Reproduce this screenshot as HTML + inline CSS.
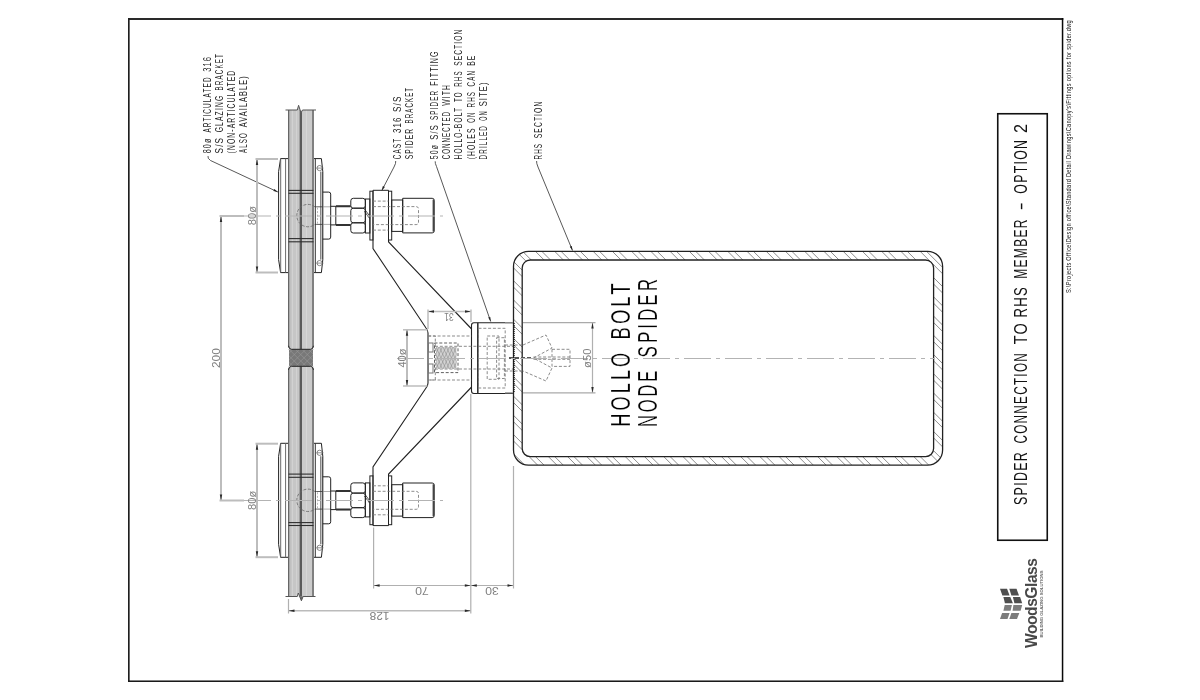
<!DOCTYPE html>
<html><head><meta charset="utf-8">
<style>
html,body{margin:0;padding:0;background:#fff;width:1200px;height:700px;overflow:hidden}
svg{display:block;will-change:transform}
text{font-family:"Liberation Sans",sans-serif}
.t{font-size:9.6px;fill:#222}
.d{font-size:9.6px;fill:#808080}
.k{fill:none;stroke:#222;stroke-width:1}
.g{fill:none;stroke:#888;stroke-width:1}
.h{fill:none;stroke:#777;stroke-width:0.85;stroke-dasharray:3 1.8}
.c{fill:none;stroke:#b3b3b3;stroke-width:1.2;stroke-dasharray:27 5 4 5}
</style></head><body>
<svg width="1200" height="700" viewBox="0 0 1200 700">
<rect x="0" y="0" width="1200" height="700" fill="#fff"/>
<!-- frame -->
<rect x="128" y="18" width="935.3" height="2" fill="#2a2a2a"/>
<rect x="128" y="18" width="1.65" height="664" fill="#1e1e1e"/>
<rect x="1061.8" y="18" width="1.5" height="664" fill="#080808"/>
<rect x="128" y="680.45" width="935.3" height="1.55" fill="#1a1a1a"/>
<!-- path text -->
<!-- title box -->
<rect x="997.75" y="113.75" width="49.5" height="426.5" fill="none" stroke="#111" stroke-width="1.6"/>

<!-- DRAWING_CONTENT -->
<rect x="288" y="110" width="26" height="486.5" fill="#c6c6c6"/>
<rect x="288" y="110" width="1.2" height="486.5" fill="#666"/>
<rect x="289.2" y="110" width="1" height="486.5" fill="#a8a8a8"/>
<rect x="292" y="110" width="1" height="486.5" fill="#d2d2d2"/>
<rect x="296" y="110" width="1" height="486.5" fill="#d2d2d2"/>
<rect x="299" y="110" width="1" height="486.5" fill="#a0a0a0"/>
<rect x="300" y="110" width="2" height="486.5" fill="#5a5a5a"/>
<rect x="302" y="110" width="10" height="486.5" fill="#cbcbcb"/>
<rect x="306" y="110" width="1" height="486.5" fill="#d6d6d6"/>
<rect x="312" y="110" width="2" height="486.5" fill="#808080"/>
<rect x="287.5" y="349.3" width="27" height="17" fill="#fff"/>
<rect x="289" y="349.3" width="24" height="17" fill="#787878"/>
<clipPath id="jnt"><rect x="289" y="349.3" width="24" height="17"/></clipPath>
<path d="M250.0,349.3 L267.0,366.3 M267.0,349.3 L250.0,366.3 M256.5,349.3 L273.5,366.3 M273.5,349.3 L256.5,366.3 M263.0,349.3 L280.0,366.3 M280.0,349.3 L263.0,366.3 M269.5,349.3 L286.5,366.3 M286.5,349.3 L269.5,366.3 M276.0,349.3 L293.0,366.3 M293.0,349.3 L276.0,366.3 M282.5,349.3 L299.5,366.3 M299.5,349.3 L282.5,366.3 M289.0,349.3 L306.0,366.3 M306.0,349.3 L289.0,366.3 M295.5,349.3 L312.5,366.3 M312.5,349.3 L295.5,366.3 M302.0,349.3 L319.0,366.3 M319.0,349.3 L302.0,366.3 M308.5,349.3 L325.5,366.3 M325.5,349.3 L308.5,366.3 M315.0,349.3 L332.0,366.3 M332.0,349.3 L315.0,366.3 M321.5,349.3 L338.5,366.3 M338.5,349.3 L321.5,366.3 M328.0,349.3 L345.0,366.3 M345.0,349.3 L328.0,366.3 M334.5,349.3 L351.5,366.3 M351.5,349.3 L334.5,366.3 M341.0,349.3 L358.0,366.3 M358.0,349.3 L341.0,366.3 M347.5,349.3 L364.5,366.3 M364.5,349.3 L347.5,366.3" stroke="#9a9a9a" stroke-width="0.6" fill="none" clip-path="url(#jnt)"/>
<path d="M287.5,349.3 L287.5,345.8 L288,345.8 Q288.6,349.3 291.5,349.3 Z" fill="#fff"/>
<path d="M314.5,349.3 L314.5,345.8 L314,345.8 Q313.4,349.3 310.5,349.3 Z" fill="#fff"/>
<path d="M288.5,345.8 Q288.9,349.3 291.5,349.3 H310.5 Q313.1,349.3 313.5,345.8" fill="none" stroke="#222" stroke-width="1"/>
<path d="M287.5,366.3 L287.5,369.8 L288,369.8 Q288.6,366.3 291.5,366.3 Z" fill="#fff"/>
<path d="M314.5,366.3 L314.5,369.8 L314,369.8 Q313.4,366.3 310.5,366.3 Z" fill="#fff"/>
<path d="M288.5,369.8 Q288.9,366.3 291.5,366.3 H310.5 Q313.1,366.3 313.5,369.8" fill="none" stroke="#222" stroke-width="1"/>
<path d="M297.3,110 L298.6,105.3 L300.1,110 Z" fill="#c2c2c2"/>
<path d="M300.1,110 L301,112.8 L302.5,110 Z" fill="#fff"/>
<path class="k" style="stroke:#555" d="M285.5,110 H297.3 L298.6,105.3 L301,112.8 L302.5,110 H316"/>
<path d="M297.3,596.5 L298.3,593 L299.7,596.5 Z" fill="#fff"/>
<path d="M299.7,596.5 L301.4,600.8 L303.1,596.5 Z" fill="#666"/>
<path class="k" style="stroke:#555" d="M285.5,596.5 H297.3 L298.3,593 L301.4,600.8 L303.1,596.5 H315.5"/>
<path class="k" d="M278.6,171.6 L280.6,158.6 L288,158.6 M278.6,171.6 L278.6,259.6 L280.6,272.6 L288,272.6"/>
<path class="k" style="stroke:#6a6a6a" d="M280.7,158.6 V272.6 M285.6,158.6 V272.6"/>
<rect x="320.5" y="171.6" width="2.6" height="88" fill="#c4c4c4"/>
<path class="k" d="M314,158.6 L321.4,158.6 L322.8,171.6 L322.8,259.6 L321.4,272.6 L314,272.6"/>
<path class="k" style="stroke:#333" d="M315.3,158.6 V272.6"/>
<path class="k" style="stroke:#888" d="M320.5,171.6 V259.6"/>
<circle cx="319.6" cy="168.1" r="2.6" fill="#fff" stroke="#555" stroke-width="0.7"/>
<path d="M316.5,168.1 H323.5" stroke="#666" stroke-width="0.7"/>
<circle cx="319.6" cy="263.1" r="2.6" fill="#fff" stroke="#555" stroke-width="0.7"/>
<path d="M316.5,263.1 H323.5" stroke="#666" stroke-width="0.7"/>
<rect x="288.5" y="189.85" width="25" height="1.1" fill="#2e2e2e"/>
<rect x="288.5" y="192.74999999999997" width="25" height="1.1" fill="#2e2e2e"/>
<rect x="288.5" y="238.04999999999998" width="25" height="1.1" fill="#2e2e2e"/>
<rect x="288.5" y="241.24999999999997" width="25" height="1.1" fill="#2e2e2e"/>
<path class="h" d="M314.9,206.79999999999998 A11.2,11.2 0 1 0 314.9,224.4" style="stroke:#666;stroke-width:0.8;stroke-dasharray:3 1.5"/>
<path d="M314.9,206.79999999999998 Q316,206.79999999999998 318,206.79999999999998 H322.5 M314.9,224.4 Q316,224.4 318,224.4 H322.5" stroke="#333" stroke-width="0.8" fill="none"/>
<path d="M323,206.79999999999998 H330.7 M323,224.4 H330.7" stroke="#888" stroke-width="0.7" fill="none"/>
<path class="h" d="M317.5,207.6 V223.6" style="stroke:#aaa;stroke-dasharray:2 1.5"/>
<path class="k" d="M322.8,192.1 L328.7,192.1 Q330.7,192.1 330.7,194.1 L330.7,237.1 Q330.7,239.1 328.7,239.1 L322.8,239.1"/>
<path class="k" d="M330.7,206.29999999999998 H350.6 M330.7,224.9 H350.6 M335.8,206.29999999999998 V224.9"/>
<path d="M336,206.29999999999998 H350.6 M336,224.9 H350.6" stroke="#333" stroke-width="2" fill="none"/>
<rect x="350.8" y="198.29999999999998" width="14.5" height="9.900000000000006" rx="2.5" class="k"/>
<rect x="350.8" y="208.2" width="14.5" height="14.599999999999994" rx="2.5" class="k"/>
<rect x="350.8" y="222.79999999999998" width="14.5" height="10.200000000000017" rx="2.5" class="k"/>
<path class="k" style="stroke-width:0.8" d="M364.4,211.29999999999998 L369.6,218.4 M365.2,210.0 L369.8,216.2"/>
<rect x="365.4" y="199.0" width="4.5" height="34" class="k"/>
<rect x="369.9" y="191.2" width="3.1" height="48.8" class="k"/>
<rect x="388.5" y="191.2" width="3.2" height="48.8" class="k"/>
<path class="k" d="M373,190.29999999999998 V240.0 M388.5,190.29999999999998 V240.0 M373,190.29999999999998 H388.5"/>
<rect x="391.7" y="200.0" width="11" height="31.4" class="k"/>
<path class="k" d="M402.7,198.29999999999998 H432.2 Q434.2,198.29999999999998 434.2,200.29999999999998 V230.9 Q434.2,232.9 432.2,232.9 H402.7 Z"/>
<path d="M433.4,199.6 V231.6" stroke="#444" stroke-width="1.6"/>
<path class="h" d="M373,201.1 H388.5 M373,230.1 H388.5"/>
<path class="h" d="M373,206.6 H416 Q418.5,206.6 418.5,209.1 V222.1 Q418.5,224.6 416,224.6 H373"/>
<path class="k" d="M278.6,544.3 L280.6,557.3 L288,557.3 M278.6,544.3 L278.6,456.3 L280.6,443.3 L288,443.3"/>
<path class="k" style="stroke:#6a6a6a" d="M280.7,557.3 V443.3 M285.6,557.3 V443.3"/>
<rect x="320.5" y="456.3" width="2.6" height="88" fill="#c4c4c4"/>
<path class="k" d="M314,557.3 L321.4,557.3 L322.8,544.3 L322.8,456.3 L321.4,443.3 L314,443.3"/>
<path class="k" style="stroke:#333" d="M315.3,557.3 V443.3"/>
<path class="k" style="stroke:#888" d="M320.5,544.3 V456.3"/>
<circle cx="319.6" cy="547.8" r="2.6" fill="#fff" stroke="#555" stroke-width="0.7"/>
<path d="M316.5,547.8 H323.5" stroke="#666" stroke-width="0.7"/>
<circle cx="319.6" cy="452.8" r="2.6" fill="#fff" stroke="#555" stroke-width="0.7"/>
<path d="M316.5,452.8 H323.5" stroke="#666" stroke-width="0.7"/>
<rect x="288.5" y="524.95" width="25" height="1.1" fill="#2e2e2e"/>
<rect x="288.5" y="522.0500000000001" width="25" height="1.1" fill="#2e2e2e"/>
<rect x="288.5" y="476.75" width="25" height="1.1" fill="#2e2e2e"/>
<rect x="288.5" y="473.55" width="25" height="1.1" fill="#2e2e2e"/>
<path class="h" d="M314.9,491.5 A11.2,11.2 0 1 0 314.9,509.1" style="stroke:#666;stroke-width:0.8;stroke-dasharray:3 1.5"/>
<path d="M314.9,491.5 Q316,491.5 318,491.5 H322.5 M314.9,509.1 Q316,509.1 318,509.1 H322.5" stroke="#333" stroke-width="0.8" fill="none"/>
<path d="M323,491.5 H330.7 M323,509.1 H330.7" stroke="#888" stroke-width="0.7" fill="none"/>
<path class="h" d="M317.5,492.3 V508.3" style="stroke:#aaa;stroke-dasharray:2 1.5"/>
<path class="k" d="M322.8,523.8 L328.7,523.8 Q330.7,523.8 330.7,521.8 L330.7,478.8 Q330.7,476.8 328.7,476.8 L322.8,476.8"/>
<path class="k" d="M330.7,509.6 H350.6 M330.7,491.0 H350.6 M335.8,509.6 V491.0"/>
<path d="M336,509.6 H350.6 M336,491.0 H350.6" stroke="#333" stroke-width="2" fill="none"/>
<rect x="350.8" y="507.7" width="14.5" height="9.900000000000034" rx="2.5" class="k"/>
<rect x="350.8" y="493.1" width="14.5" height="14.599999999999966" rx="2.5" class="k"/>
<rect x="350.8" y="482.90000000000003" width="14.5" height="10.199999999999989" rx="2.5" class="k"/>
<path class="k" style="stroke-width:0.8" d="M364.4,496.0 L369.6,503.1 M365.2,494.7 L369.8,500.90000000000003"/>
<rect x="365.4" y="482.90000000000003" width="4.5" height="34" class="k"/>
<rect x="369.9" y="475.90000000000003" width="3.1" height="48.8" class="k"/>
<rect x="388.5" y="475.90000000000003" width="3.2" height="48.8" class="k"/>
<path class="k" d="M373,525.6 V475.90000000000003 M388.5,525.6 V475.90000000000003 M373,525.6 H388.5"/>
<rect x="391.7" y="484.7" width="11" height="31.4" class="k"/>
<path class="k" d="M402.7,483.0 H432.2 Q434.2,483.0 434.2,485.0 V515.6 Q434.2,517.6 432.2,517.6 H402.7 Z"/>
<path d="M433.4,484.3 V516.3" stroke="#444" stroke-width="1.6"/>
<path class="h" d="M373,485.8 H388.5 M373,514.8 H388.5"/>
<path class="h" d="M373,491.3 H416 Q418.5,491.3 418.5,493.8 V506.8 Q418.5,509.3 416,509.3 H373"/>
<path class="k" style="stroke-width:1.1" d="M373,240 V248.5 L426,328 Q428,330.5 428,333 V383 Q428,385.5 426,388 L373,467 V476"/>
<path class="k" style="stroke-width:1.1" d="M388.5,240 L388.6,242 L471.6,329 M388.5,476 L388.6,474 L471.6,387"/>
<path class="k" style="stroke-width:1.1" d="M513.4,322.8 H474 Q471.5,322.8 471.5,325.3 V391 Q471.5,393.5 474,393.5 H513.4"/>
<path d="M477.8,322.8 V393.5" stroke="#333" stroke-width="1.6"/>
<rect x="478.5" y="328.3" width="26.7" height="59.7" class="h"/>
<rect x="487.2" y="336" width="11.8" height="43.3" class="h"/>
<rect x="496.6" y="337.7" width="7.8" height="40.8" class="h"/>
<path class="h" d="M428,336 H471.5 M428,380 H471.5 M435,346.3 H513 M435,369 H513"/>
<path class="h" d="M428.3,336 H435.3 V380 H428.3"/>
<rect x="436" y="347" width="20.5" height="22" fill="#d2d2d2"/>
<path d="M415.0,347 L424.9,369 M424.9,347 L415.0,369 M418.5,347 L428.4,369 M428.4,347 L418.5,369 M422.0,347 L431.9,369 M431.9,347 L422.0,369 M425.5,347 L435.4,369 M435.4,347 L425.5,369 M429.0,347 L438.9,369 M438.9,347 L429.0,369 M432.5,347 L442.4,369 M442.4,347 L432.5,369 M436.0,347 L445.9,369 M445.9,347 L436.0,369 M439.5,347 L449.4,369 M449.4,347 L439.5,369 M443.0,347 L452.9,369 M452.9,347 L443.0,369 M446.5,347 L456.4,369 M456.4,347 L446.5,369 M450.0,347 L459.9,369 M459.9,347 L450.0,369 M453.5,347 L463.4,369 M463.4,347 L453.5,369 M457.0,347 L466.9,369 M466.9,347 L457.0,369 M460.5,347 L470.4,369 M470.4,347 L460.5,369 M464.0,347 L473.9,369 M473.9,347 L464.0,369 M467.5,347 L477.4,369 M477.4,347 L467.5,369 M471.0,347 L480.9,369 M480.9,347 L471.0,369 M474.5,347 L484.4,369 M484.4,347 L474.5,369" stroke="#8a8a8a" stroke-width="0.55" fill="none" clip-path="url(#thr)"/>
<clipPath id="thr"><rect x="436" y="347" width="20.5" height="22"/></clipPath>
<rect x="434.5" y="343" width="23.5" height="29.6" class="h" style="stroke:#444"/>
<rect x="428.5" y="343" width="4.5" height="9" class="k" style="stroke:#777"/>
<rect x="428.5" y="364" width="4.5" height="9" class="k" style="stroke:#777"/>
<clipPath id="wall"><path d="M528.5,251.4 H927.6 A15,15 0 0 1 942.6,266.4 V450.1 A15,15 0 0 1 927.6,465.1 H528.5 A15,15 0 0 1 513.5,450.1 V266.4 A15,15 0 0 1 528.5,251.4 Z M530.2,260 H925.6 A8,8 0 0 1 933.6,268 V448.6 A8,8 0 0 1 925.6,456.6 H530.2 A8,8 0 0 1 522.2,448.6 V268 A8,8 0 0 1 530.2,260 Z" clip-rule="evenodd"/></clipPath>
<path d="M-533.90,-48.599999999999994 L66.10,551.4 M-527.50,-48.599999999999994 L72.50,551.4 M-514.66,-48.599999999999994 L85.34,551.4 M-508.26,-48.599999999999994 L91.74,551.4 M-495.43,-48.599999999999994 L104.57,551.4 M-489.03,-48.599999999999994 L110.97,551.4 M-476.19,-48.599999999999994 L123.81,551.4 M-469.79,-48.599999999999994 L130.21,551.4 M-456.96,-48.599999999999994 L143.04,551.4 M-450.56,-48.599999999999994 L149.44,551.4 M-437.73,-48.599999999999994 L162.27,551.4 M-431.33,-48.599999999999994 L168.67,551.4 M-418.49,-48.599999999999994 L181.51,551.4 M-412.09,-48.599999999999994 L187.91,551.4 M-399.25,-48.599999999999994 L200.75,551.4 M-392.86,-48.599999999999994 L207.15,551.4 M-380.02,-48.599999999999994 L219.98,551.4 M-373.62,-48.599999999999994 L226.38,551.4 M-360.78,-48.599999999999994 L239.22,551.4 M-354.38,-48.599999999999994 L245.62,551.4 M-341.55,-48.599999999999994 L258.45,551.4 M-335.15,-48.599999999999994 L264.85,551.4 M-322.31,-48.599999999999994 L277.69,551.4 M-315.91,-48.599999999999994 L284.09,551.4 M-303.08,-48.599999999999994 L296.92,551.4 M-296.68,-48.599999999999994 L303.32,551.4 M-283.85,-48.599999999999994 L316.15,551.4 M-277.45,-48.599999999999994 L322.55,551.4 M-264.61,-48.599999999999994 L335.39,551.4 M-258.21,-48.599999999999994 L341.79,551.4 M-245.38,-48.599999999999994 L354.62,551.4 M-238.97,-48.599999999999994 L361.02,551.4 M-226.14,-48.599999999999994 L373.86,551.4 M-219.74,-48.599999999999994 L380.26,551.4 M-206.90,-48.599999999999994 L393.10,551.4 M-200.50,-48.599999999999994 L399.50,551.4 M-187.67,-48.599999999999994 L412.33,551.4 M-181.27,-48.599999999999994 L418.73,551.4 M-168.44,-48.599999999999994 L431.56,551.4 M-162.03,-48.599999999999994 L437.97,551.4 M-149.20,-48.599999999999994 L450.80,551.4 M-142.80,-48.599999999999994 L457.20,551.4 M-129.96,-48.599999999999994 L470.04,551.4 M-123.56,-48.599999999999994 L476.44,551.4 M-110.73,-48.599999999999994 L489.27,551.4 M-104.33,-48.599999999999994 L495.67,551.4 M-91.50,-48.599999999999994 L508.50,551.4 M-85.09,-48.599999999999994 L514.90,551.4 M-72.26,-48.599999999999994 L527.74,551.4 M-65.86,-48.599999999999994 L534.14,551.4 M-53.02,-48.599999999999994 L546.98,551.4 M-46.62,-48.599999999999994 L553.38,551.4 M-33.79,-48.599999999999994 L566.21,551.4 M-27.39,-48.599999999999994 L572.61,551.4 M-14.56,-48.599999999999994 L585.44,551.4 M-8.16,-48.599999999999994 L591.85,551.4 M4.68,-48.599999999999994 L604.68,551.4 M11.08,-48.599999999999994 L611.08,551.4 M23.92,-48.599999999999994 L623.91,551.4 M30.31,-48.599999999999994 L630.32,551.4 M43.15,-48.599999999999994 L643.15,551.4 M49.55,-48.599999999999994 L649.55,551.4 M62.38,-48.599999999999994 L662.38,551.4 M68.78,-48.599999999999994 L668.78,551.4 M81.62,-48.599999999999994 L681.62,551.4 M88.02,-48.599999999999994 L688.02,551.4 M100.86,-48.599999999999994 L700.86,551.4 M107.25,-48.599999999999994 L707.25,551.4 M120.09,-48.599999999999994 L720.09,551.4 M126.49,-48.599999999999994 L726.49,551.4 M139.32,-48.599999999999994 L739.33,551.4 M145.72,-48.599999999999994 L745.72,551.4 M158.56,-48.599999999999994 L758.56,551.4 M164.96,-48.599999999999994 L764.96,551.4 M177.80,-48.599999999999994 L777.80,551.4 M184.19,-48.599999999999994 L784.19,551.4 M197.03,-48.599999999999994 L797.03,551.4 M203.43,-48.599999999999994 L803.43,551.4 M216.26,-48.599999999999994 L816.26,551.4 M222.66,-48.599999999999994 L822.66,551.4 M235.50,-48.599999999999994 L835.50,551.4 M241.90,-48.599999999999994 L841.90,551.4 M254.74,-48.599999999999994 L854.74,551.4 M261.13,-48.599999999999994 L861.13,551.4 M273.97,-48.599999999999994 L873.97,551.4 M280.37,-48.599999999999994 L880.37,551.4 M293.21,-48.599999999999994 L893.21,551.4 M299.61,-48.599999999999994 L899.61,551.4 M312.44,-48.599999999999994 L912.44,551.4 M318.84,-48.599999999999994 L918.84,551.4 M331.67,-48.599999999999994 L931.67,551.4 M338.07,-48.599999999999994 L938.07,551.4 M350.91,-48.599999999999994 L950.91,551.4 M357.31,-48.599999999999994 L957.31,551.4 M370.14,-48.599999999999994 L970.14,551.4 M376.54,-48.599999999999994 L976.54,551.4 M389.38,-48.599999999999994 L989.38,551.4 M395.78,-48.599999999999994 L995.78,551.4 M408.62,-48.599999999999994 L1008.62,551.4 M415.01,-48.599999999999994 L1015.01,551.4 M427.85,-48.599999999999994 L1027.85,551.4 M434.25,-48.599999999999994 L1034.25,551.4 M447.09,-48.599999999999994 L1047.09,551.4 M453.49,-48.599999999999994 L1053.49,551.4 M466.32,-48.599999999999994 L1066.32,551.4 M472.72,-48.599999999999994 L1072.72,551.4 M485.56,-48.599999999999994 L1085.56,551.4 M491.96,-48.599999999999994 L1091.95,551.4 M504.79,-48.599999999999994 L1104.79,551.4 M511.19,-48.599999999999994 L1111.19,551.4 M524.02,-48.599999999999994 L1124.03,551.4 M530.42,-48.599999999999994 L1130.42,551.4 M543.26,-48.599999999999994 L1143.26,551.4 M549.66,-48.599999999999994 L1149.66,551.4 M562.50,-48.599999999999994 L1162.49,551.4 M568.89,-48.599999999999994 L1168.89,551.4 M581.73,-48.599999999999994 L1181.73,551.4 M588.13,-48.599999999999994 L1188.13,551.4 M600.96,-48.599999999999994 L1200.96,551.4 M607.36,-48.599999999999994 L1207.36,551.4 M620.20,-48.599999999999994 L1220.20,551.4 M626.60,-48.599999999999994 L1226.60,551.4 M639.43,-48.599999999999994 L1239.43,551.4 M645.83,-48.599999999999994 L1245.84,551.4 M658.67,-48.599999999999994 L1258.67,551.4 M665.07,-48.599999999999994 L1265.07,551.4 M677.90,-48.599999999999994 L1277.90,551.4 M684.30,-48.599999999999994 L1284.30,551.4 M697.14,-48.599999999999994 L1297.14,551.4 M703.54,-48.599999999999994 L1303.54,551.4 M716.38,-48.599999999999994 L1316.38,551.4 M722.77,-48.599999999999994 L1322.78,551.4 M735.61,-48.599999999999994 L1335.61,551.4 M742.01,-48.599999999999994 L1342.01,551.4 M754.85,-48.599999999999994 L1354.85,551.4 M761.25,-48.599999999999994 L1361.25,551.4 M774.08,-48.599999999999994 L1374.08,551.4 M780.48,-48.599999999999994 L1380.48,551.4 M793.32,-48.599999999999994 L1393.32,551.4 M799.72,-48.599999999999994 L1399.72,551.4 M812.55,-48.599999999999994 L1412.55,551.4 M818.95,-48.599999999999994 L1418.95,551.4 M831.78,-48.599999999999994 L1431.78,551.4 M838.18,-48.599999999999994 L1438.18,551.4 M851.02,-48.599999999999994 L1451.02,551.4 M857.42,-48.599999999999994 L1457.42,551.4 M870.26,-48.599999999999994 L1470.26,551.4 M876.66,-48.599999999999994 L1476.66,551.4 M889.49,-48.599999999999994 L1489.49,551.4 M895.89,-48.599999999999994 L1495.89,551.4 M908.72,-48.599999999999994 L1508.72,551.4 M915.12,-48.599999999999994 L1515.12,551.4 M927.96,-48.599999999999994 L1527.96,551.4 M934.36,-48.599999999999994 L1534.36,551.4 M947.19,-48.599999999999994 L1547.19,551.4 M953.60,-48.599999999999994 L1553.60,551.4 M966.43,-48.599999999999994 L1566.43,551.4 M972.83,-48.599999999999994 L1572.83,551.4 M985.66,-48.599999999999994 L1585.66,551.4 M992.07,-48.599999999999994 L1592.07,551.4 M1004.90,-48.599999999999994 L1604.90,551.4 M1011.30,-48.599999999999994 L1611.30,551.4 M1024.13,-48.599999999999994 L1624.13,551.4 M1030.54,-48.599999999999994 L1630.54,551.4 M1043.37,-48.599999999999994 L1643.37,551.4 M1049.77,-48.599999999999994 L1649.77,551.4 M1062.61,-48.599999999999994 L1662.61,551.4 M1069.01,-48.599999999999994 L1669.01,551.4 M1081.84,-48.599999999999994 L1681.84,551.4 M1088.24,-48.599999999999994 L1688.24,551.4 M1101.07,-48.599999999999994 L1701.07,551.4 M1107.47,-48.599999999999994 L1707.47,551.4 M1120.31,-48.599999999999994 L1720.31,551.4 M1126.71,-48.599999999999994 L1726.71,551.4 M1139.55,-48.599999999999994 L1739.55,551.4 M1145.95,-48.599999999999994 L1745.95,551.4 M1158.78,-48.599999999999994 L1758.78,551.4 M1165.18,-48.599999999999994 L1765.18,551.4 M1178.01,-48.599999999999994 L1778.01,551.4 M1184.41,-48.599999999999994 L1784.41,551.4 M1197.25,-48.599999999999994 L1797.25,551.4 M1203.65,-48.599999999999994 L1803.65,551.4 M1216.49,-48.599999999999994 L1816.49,551.4 M1222.89,-48.599999999999994 L1822.89,551.4 M1235.72,-48.599999999999994 L1835.72,551.4 M1242.12,-48.599999999999994 L1842.12,551.4 M1254.95,-48.599999999999994 L1854.95,551.4 M1261.36,-48.599999999999994 L1861.36,551.4 M1274.19,-48.599999999999994 L1874.19,551.4 M1280.59,-48.599999999999994 L1880.59,551.4 M1293.42,-48.599999999999994 L1893.42,551.4 M1299.83,-48.599999999999994 L1899.83,551.4 M1312.66,-48.599999999999994 L1912.66,551.4 M1319.06,-48.599999999999994 L1919.06,551.4 M1331.89,-48.599999999999994 L1931.89,551.4 M1338.30,-48.599999999999994 L1938.30,551.4 M1351.13,-48.599999999999994 L1951.13,551.4 M1357.53,-48.599999999999994 L1957.53,551.4 M1370.37,-48.599999999999994 L1970.37,551.4 M1376.77,-48.599999999999994 L1976.77,551.4" stroke="#707070" stroke-width="0.8" fill="none" clip-path="url(#wall)"/>
<path d="M528.5,251.4 H927.6 A15,15 0 0 1 942.6,266.4 V450.1 A15,15 0 0 1 927.6,465.1 H528.5 A15,15 0 0 1 513.5,450.1 V266.4 A15,15 0 0 1 528.5,251.4 Z" class="k" style="stroke-width:1.3"/>
<path d="M530.2,260 H925.6 A8,8 0 0 1 933.6,268 V448.6 A8,8 0 0 1 925.6,456.6 H530.2 A8,8 0 0 1 522.2,448.6 V268 A8,8 0 0 1 530.2,260 Z" class="k" style="stroke-width:1.3"/>
<path class="h" d="M523,345 L546,335 L552,348 L533.5,358 L552,368 L546,381 L523,371"/>
<rect x="552" y="349.3" width="18" height="17.1" class="h"/>
<path class="h" d="M533.5,357 H570 M533.5,359.3 H570"/>
<path class="h" d="M505,345 H523 M505,371 H523"/>
<path d="M509,358 H532" stroke="#555" stroke-width="2" stroke-dasharray="4 2"/>
<path d="M514,323 V393" stroke="#111" stroke-width="1.3" stroke-dasharray="1 1"/>
<path class="c" d="M244,216 H443"/>
<path class="c" d="M244,500.5 H443"/>
<path class="c" d="M395,358.5 H935" style="stroke-dashoffset:-2"/>
<!-- /DRAWING_CONTENT -->

<!-- TEXT_CONTENT -->
<text transform="translate(210.6,153.29) rotate(-90) scale(0.7263,1)" style="font-size:10px;fill:#1e1e1e;" textLength="20.26" lengthAdjust="spacing">80ø</text>
<text transform="translate(210.6,132.62) rotate(-90) scale(0.6453,1)" style="font-size:10px;fill:#1e1e1e;" textLength="85.58" lengthAdjust="spacing">ARTICULATED</text>
<text transform="translate(210.6,71.79) rotate(-90) scale(0.7585,1)" style="font-size:10px;fill:#1e1e1e;" textLength="19.58" lengthAdjust="spacing">316</text>
<text transform="translate(222.8,153.41) rotate(-90) scale(0.8250,1)" style="font-size:10px;fill:#1e1e1e;" textLength="18.79" lengthAdjust="spacing">S/S</text>
<text transform="translate(222.8,132.33) rotate(-90) scale(0.6824,1)" style="font-size:10px;fill:#1e1e1e;" textLength="53.57" lengthAdjust="spacing">GLAZING</text>
<text transform="translate(222.8,90.47) rotate(-90) scale(0.6292,1)" style="font-size:10px;fill:#1e1e1e;" textLength="57.72" lengthAdjust="spacing">BRACKET</text>
<text transform="translate(235.0,153.41) rotate(-90) scale(0.6795,1)" style="font-size:10px;fill:#1e1e1e;" textLength="121.69" lengthAdjust="spacing">(NON-ARTICULATED</text>
<text transform="translate(247.4,153.00) rotate(-90) scale(0.6198,1)" style="font-size:10px;fill:#1e1e1e;" textLength="32.00" lengthAdjust="spacing">ALSO</text>
<text transform="translate(247.4,127.20) rotate(-90) scale(0.7368,1)" style="font-size:10px;fill:#1e1e1e;" textLength="69.20" lengthAdjust="spacing">AVAILABLE)</text>
<text transform="translate(400.6,159.22) rotate(-90) scale(0.6385,1)" style="font-size:10px;fill:#1e1e1e;" textLength="31.84" lengthAdjust="spacing">CAST</text>
<text transform="translate(400.6,132.97) rotate(-90) scale(0.7880,1)" style="font-size:10px;fill:#1e1e1e;" textLength="19.47" lengthAdjust="spacing">316</text>
<text transform="translate(400.6,112.06) rotate(-90) scale(0.8245,1)" style="font-size:10px;fill:#1e1e1e;" textLength="18.79" lengthAdjust="spacing">S/S</text>
<text transform="translate(412.9,159.23) rotate(-90) scale(0.6689,1)" style="font-size:10px;fill:#1e1e1e;" textLength="45.46" lengthAdjust="spacing">SPIDER</text>
<text transform="translate(412.9,123.44) rotate(-90) scale(0.6115,1)" style="font-size:10px;fill:#1e1e1e;" textLength="58.03" lengthAdjust="spacing">BRACKET</text>
<text transform="translate(437.5,159.18) rotate(-90) scale(0.6926,1)" style="font-size:10px;fill:#1e1e1e;" textLength="20.41" lengthAdjust="spacing">50ø</text>
<text transform="translate(437.5,139.64) rotate(-90) scale(0.7568,1)" style="font-size:10px;fill:#1e1e1e;" textLength="19.03" lengthAdjust="spacing">S/S</text>
<text transform="translate(437.5,119.94) rotate(-90) scale(0.6313,1)" style="font-size:10px;fill:#1e1e1e;" textLength="45.94" lengthAdjust="spacing">SPIDER</text>
<text transform="translate(437.5,85.84) rotate(-90) scale(0.7148,1)" style="font-size:10px;fill:#1e1e1e;" textLength="48.11" lengthAdjust="spacing">FITTING</text>
<text transform="translate(450.0,159.20) rotate(-90) scale(0.6078,1)" style="font-size:10px;fill:#1e1e1e;" textLength="77.81" lengthAdjust="spacing">CONNECTED</text>
<text transform="translate(450.0,105.76) rotate(-90) scale(0.6825,1)" style="font-size:10px;fill:#1e1e1e;" textLength="30.38" lengthAdjust="spacing">WITH</text>
<text transform="translate(462.2,159.43) rotate(-90) scale(0.6636,1)" style="font-size:10px;fill:#1e1e1e;" textLength="77.52" lengthAdjust="spacing">HOLLO-BOLT</text>
<text transform="translate(462.2,101.96) rotate(-90) scale(0.6289,1)" style="font-size:10px;fill:#1e1e1e;" textLength="15.45" lengthAdjust="spacing">TO</text>
<text transform="translate(462.2,86.76) rotate(-90) scale(0.6194,1)" style="font-size:10px;fill:#1e1e1e;" textLength="24.67" lengthAdjust="spacing">RHS</text>
<text transform="translate(462.2,65.85) rotate(-90) scale(0.6639,1)" style="font-size:10px;fill:#1e1e1e;" textLength="54.39" lengthAdjust="spacing">SECTION</text>
<text transform="translate(474.5,159.31) rotate(-90) scale(0.6796,1)" style="font-size:10px;fill:#1e1e1e;" textLength="45.32" lengthAdjust="spacing">(HOLES</text>
<text transform="translate(474.5,122.80) rotate(-90) scale(0.5985,1)" style="font-size:10px;fill:#1e1e1e;" textLength="16.84" lengthAdjust="spacing">ON</text>
<text transform="translate(474.5,107.40) rotate(-90) scale(0.6212,1)" style="font-size:10px;fill:#1e1e1e;" textLength="24.66" lengthAdjust="spacing">RHS</text>
<text transform="translate(474.5,86.41) rotate(-90) scale(0.6212,1)" style="font-size:10px;fill:#1e1e1e;" textLength="24.66" lengthAdjust="spacing">CAN</text>
<text transform="translate(474.5,65.84) rotate(-90) scale(0.6721,1)" style="font-size:10px;fill:#1e1e1e;" textLength="14.98" lengthAdjust="spacing">BE</text>
<text transform="translate(486.8,159.41) rotate(-90) scale(0.6338,1)" style="font-size:10px;fill:#1e1e1e;" textLength="52.65" lengthAdjust="spacing">DRILLED</text>
<text transform="translate(486.8,120.67) rotate(-90) scale(0.5420,1)" style="font-size:10px;fill:#1e1e1e;" textLength="17.03" lengthAdjust="spacing">ON</text>
<text transform="translate(486.8,106.34) rotate(-90) scale(0.7608,1)" style="font-size:10px;fill:#1e1e1e;" textLength="31.34" lengthAdjust="spacing">SITE)</text>
<text transform="translate(541.5,159.40) rotate(-90) scale(0.6281,1)" style="font-size:10px;fill:#1e1e1e;" textLength="24.62" lengthAdjust="spacing">RHS</text>
<text transform="translate(541.5,138.25) rotate(-90) scale(0.6733,1)" style="font-size:10px;fill:#1e1e1e;" textLength="54.25" lengthAdjust="spacing">SECTION</text>
<text transform="translate(630.3,426.77) rotate(-90) scale(0.6783,1)" style="font-size:27px;fill:#000;stroke:#fff;stroke-width:0.2" textLength="109.22" lengthAdjust="spacing">HOLLO</text>
<text transform="translate(630.3,339.38) rotate(-90) scale(0.6861,1)" style="font-size:27px;fill:#000;stroke:#fff;stroke-width:0.2" textLength="81.63" lengthAdjust="spacing">BOLT</text>
<text transform="translate(657.4,427.11) rotate(-90) scale(0.6070,1)" style="font-size:27px;fill:#000;stroke:#fff;stroke-width:0.2" textLength="92.84" lengthAdjust="spacing">NODE</text>
<text transform="translate(657.4,357.45) rotate(-90) scale(0.6313,1)" style="font-size:27px;fill:#000;stroke:#fff;stroke-width:0.2" textLength="124.29" lengthAdjust="spacing">SPIDER</text>
<text transform="translate(1027,505.02) rotate(-90) scale(0.6543,1)" style="font-size:19px;fill:#111" textLength="80.68" lengthAdjust="spacing">SPIDER</text>
<text transform="translate(1027,443.58) rotate(-90) scale(0.6158,1)" style="font-size:19px;fill:#111" textLength="146.72" lengthAdjust="spacing">CONNECTION</text>
<text transform="translate(1027,344.29) rotate(-90) scale(0.7571,1)" style="font-size:19px;fill:#111" textLength="27.76" lengthAdjust="spacing">TO</text>
<text transform="translate(1027,317.55) rotate(-90) scale(0.6885,1)" style="font-size:19px;fill:#111" textLength="43.89" lengthAdjust="spacing">RHS</text>
<text transform="translate(1027,278.86) rotate(-90) scale(0.6338,1)" style="font-size:19px;fill:#111" textLength="93.65" lengthAdjust="spacing">MEMBER</text>
<text transform="translate(1027,210.2) rotate(-90) scale(1.0,1)" style="font-size:19px;fill:#111" textLength="7.90" lengthAdjust="spacingAndGlyphs">-</text>
<text transform="translate(1027,193.71) rotate(-90) scale(0.6472,1)" style="font-size:19px;fill:#111" textLength="82.88" lengthAdjust="spacing">OPTION</text>
<text transform="translate(1027,132.9) rotate(-90) scale(1.0,1)" style="font-size:19px;fill:#111" textLength="9.00" lengthAdjust="spacingAndGlyphs">2</text>
<text class="t" transform="translate(1071.2,293) rotate(-90) scale(0.8,1)" style="font-size:7px;fill:#111" textLength="340.9" lengthAdjust="spacing">S:\Projects Office\Design office\Standard Detail Drawings\Canopy's\Fittings options for spider.dwg</text>
<path d="M208,156 L208.3,158.3 L210.5,160.5 L277.9,192" fill="none" stroke="#3a3a3a" stroke-width="0.85"/>
<path d="M277.90,192.00 L273.36,191.09 L274.29,189.10 Z" fill="#222"/>
<path d="M395.7,161 L395.5,163.5 L394,167 L381.8,190.5" fill="none" stroke="#3a3a3a" stroke-width="0.85"/>
<path d="M381.80,190.50 L382.90,186.00 L384.85,187.01 Z" fill="#222"/>
<path d="M435.2,161.3 L435.4,163.5 L436.5,166.5 L490.7,321.5" fill="none" stroke="#3a3a3a" stroke-width="0.85"/>
<path d="M490.70,321.50 L488.18,317.62 L490.25,316.89 Z" fill="#222"/>
<path d="M536.6,161 L536.8,163.5 L538,167 L572.5,250.5" fill="none" stroke="#3a3a3a" stroke-width="0.85"/>
<path d="M572.50,250.50 L569.76,246.76 L571.80,245.92 Z" fill="#222"/>
<path d="M257,159.0 L257,272.5" stroke="#bdbdbd" stroke-width="2" fill="none"/>
<path d="M257.00,272.50 L255.80,266.50 L258.20,266.50 Z" fill="#2a2a2a"/>
<path d="M257.00,159.00 L258.20,165.00 L255.80,165.00 Z" fill="#2a2a2a"/>
<path d="M255.5,159.0 L278,159.0" stroke="#bdbdbd" stroke-width="2" fill="none"/>
<path d="M255.5,272.5 L278,272.5" stroke="#bdbdbd" stroke-width="2" fill="none"/>
<text class="d" transform="translate(255.8,225.2) rotate(-90) scale(1,1)" style="font-size:11.3px;" textLength="19.2" lengthAdjust="spacingAndGlyphs">80ø</text>
<path d="M257,443.7 L257,557.2" stroke="#bdbdbd" stroke-width="2" fill="none"/>
<path d="M257.00,557.20 L255.80,551.20 L258.20,551.20 Z" fill="#2a2a2a"/>
<path d="M257.00,443.70 L258.20,449.70 L255.80,449.70 Z" fill="#2a2a2a"/>
<path d="M255.5,443.7 L278,443.7" stroke="#bdbdbd" stroke-width="2" fill="none"/>
<path d="M255.5,557.2 L278,557.2" stroke="#bdbdbd" stroke-width="2" fill="none"/>
<text class="d" transform="translate(255.8,509.90000000000003) rotate(-90) scale(1,1)" style="font-size:11.3px;" textLength="19.2" lengthAdjust="spacingAndGlyphs">80ø</text>
<path d="M221,216 L221,500.5" stroke="#bdbdbd" stroke-width="2" fill="none"/>
<path d="M221.00,500.50 L219.80,494.50 L222.20,494.50 Z" fill="#2a2a2a"/>
<path d="M221.00,216.00 L222.20,222.00 L219.80,222.00 Z" fill="#2a2a2a"/>
<path d="M219.5,216 L244,216" stroke="#bdbdbd" stroke-width="2" fill="none"/>
<path d="M219.5,500.5 L244,500.5" stroke="#bdbdbd" stroke-width="2" fill="none"/>
<text class="d" transform="translate(220.1,368) rotate(-90) scale(1,1)" style="font-size:11.6px;" textLength="19.8" lengthAdjust="spacingAndGlyphs">200</text>
<path d="M407,329.8 L407,386" stroke="#bdbdbd" stroke-width="2" fill="none"/>
<path d="M407.00,386.00 L405.80,380.00 L408.20,380.00 Z" fill="#2a2a2a"/>
<path d="M407.00,329.80 L408.20,335.80 L405.80,335.80 Z" fill="#2a2a2a"/>
<path d="M403,329.8 L427.5,329.8" stroke="#bdbdbd" stroke-width="1.5" fill="none"/>
<path d="M403,386 L427.5,386" stroke="#bdbdbd" stroke-width="1.5" fill="none"/>
<text class="d" transform="translate(405.9,367.5) rotate(-90) scale(1,1)" style="font-size:11.3px;" textLength="18.8" lengthAdjust="spacingAndGlyphs">40ø</text>
<path d="M428,311.5 L471,311.5" stroke="#bdbdbd" stroke-width="1.5" fill="none"/>
<path d="M471.00,311.50 L465.00,312.70 L465.00,310.30 Z" fill="#2a2a2a"/>
<path d="M428.00,311.50 L434.00,310.30 L434.00,312.70 Z" fill="#2a2a2a"/>
<path d="M428,309.5 L428,329" stroke="#bdbdbd" stroke-width="1.5" fill="none"/>
<path d="M471,309.5 L471,322" stroke="#bdbdbd" stroke-width="1.5" fill="none"/>
<text class="d" transform="translate(453.7,312.7) rotate(180)" style="font-size:11.3px" textLength="9.6" lengthAdjust="spacingAndGlyphs">31</text>
<path d="M592.5,322.6 L592.5,392.9" stroke="#b0b0b0" stroke-width="1.2" fill="none"/>
<path d="M592.50,392.90 L591.30,386.90 L593.70,386.90 Z" fill="#2a2a2a"/>
<path d="M592.50,322.60 L593.70,328.60 L591.30,328.60 Z" fill="#2a2a2a"/>
<path d="M523,322.6 L595.5,322.6" stroke="#aaa" stroke-width="1.2" fill="none"/>
<path d="M523,392.9 L595.5,392.9" stroke="#aaa" stroke-width="1.2" fill="none"/>
<path d="M505,322.6 L513,322.6" stroke="#888" stroke-width="1.2" fill="none"/>
<path d="M505,392.9 L513,392.9" stroke="#888" stroke-width="1.2" fill="none"/>
<text class="d" transform="translate(591.4,367.9) rotate(-90) scale(1,1)" style="font-size:11.3px;" textLength="19.3" lengthAdjust="spacingAndGlyphs">ø50</text>
<path d="M373.6,585.5 L470.8,585.5" stroke="#b0b0b0" stroke-width="1.2" fill="none"/>
<path d="M470.80,585.50 L464.80,586.70 L464.80,584.30 Z" fill="#2a2a2a"/>
<path d="M373.60,585.50 L379.60,584.30 L379.60,586.70 Z" fill="#2a2a2a"/>
<path d="M470.8,585.5 L513.5,585.5" stroke="#b0b0b0" stroke-width="1.2" fill="none"/>
<path d="M513.50,585.50 L507.50,586.70 L507.50,584.30 Z" fill="#2a2a2a"/>
<path d="M470.80,585.50 L476.80,584.30 L476.80,586.70 Z" fill="#2a2a2a"/>
<path d="M288.5,610.8 L470.8,610.8" stroke="#bbb" stroke-width="1.5" fill="none"/>
<path d="M470.80,610.80 L464.80,612.00 L464.80,609.60 Z" fill="#2a2a2a"/>
<path d="M288.50,610.80 L294.50,609.60 L294.50,612.00 Z" fill="#2a2a2a"/>
<path d="M373.6,527.5 L373.6,588.5" stroke="#b0b0b0" stroke-width="1.2" fill="none"/>
<path d="M470.8,394 L470.8,613.5" stroke="#b0b0b0" stroke-width="1.2" fill="none"/>
<path d="M513.5,466 L513.5,588.5" stroke="#b0b0b0" stroke-width="1.2" fill="none"/>
<path d="M288.5,599 L288.5,613.5" stroke="#b0b0b0" stroke-width="1.2" fill="none"/>
<text class="d" transform="translate(428.8,586.5) rotate(180)" style="font-size:11.3px" textLength="13.6" lengthAdjust="spacingAndGlyphs">70</text>
<text class="d" transform="translate(498.8,586.5) rotate(180)" style="font-size:11.3px" textLength="13.6" lengthAdjust="spacingAndGlyphs">30</text>
<text class="d" transform="translate(389.6,611.8) rotate(180)" style="font-size:11.3px" textLength="20.0" lengthAdjust="spacingAndGlyphs">128</text>
<g>
<path d="M1000,588.8 L1007,588.8 L1009.6,595.5 L1002.4,595.5 Z" fill="#4e4e4e"/>
<path d="M1009.3,588.8 L1016.5,588.8 L1019,595.5 L1011.4,595.5 Z" fill="#4e4e4e"/>
<path d="M1003.4,597 L1010.3,597 L1012.9,603.2 L1004.9,603.2 Z" fill="#4e4e4e"/>
<path d="M1012.9,597 L1020.1,597 L1022.2,603.2 L1014.4,603.2 Z" fill="#4e4e4e"/>
<path d="M1004.7,605 L1011.9,605 L1010.6,610.7 L1003.4,610.7 Z" fill="#7c7c7c"/>
<path d="M1013.4,605 L1022.2,605 L1020.6,610.7 L1012.6,610.7 Z" fill="#7c7c7c"/>
<path d="M1002.1,613 L1009.6,613 L1007.5,618.9 L1000,618.9 Z" fill="#7c7c7c"/>
<path d="M1011.4,613 L1019.3,613 L1017,618.9 L1009.3,618.9 Z" fill="#7c7c7c"/>
</g>
<text transform="translate(1037.3,648) rotate(-90)" style="font-size:17px;font-weight:bold;fill:#474747;letter-spacing:-0.5px" textLength="89.5" lengthAdjust="spacingAndGlyphs">WoodsGlass</text>
<text transform="translate(1042.6,637.5) rotate(-90)" style="font-size:3.4px;font-weight:bold;fill:#666" textLength="67" lengthAdjust="spacingAndGlyphs">BUILDING GLAZING SOLUTIONS</text>
<!-- /TEXT_CONTENT -->
</svg>
</body></html>
